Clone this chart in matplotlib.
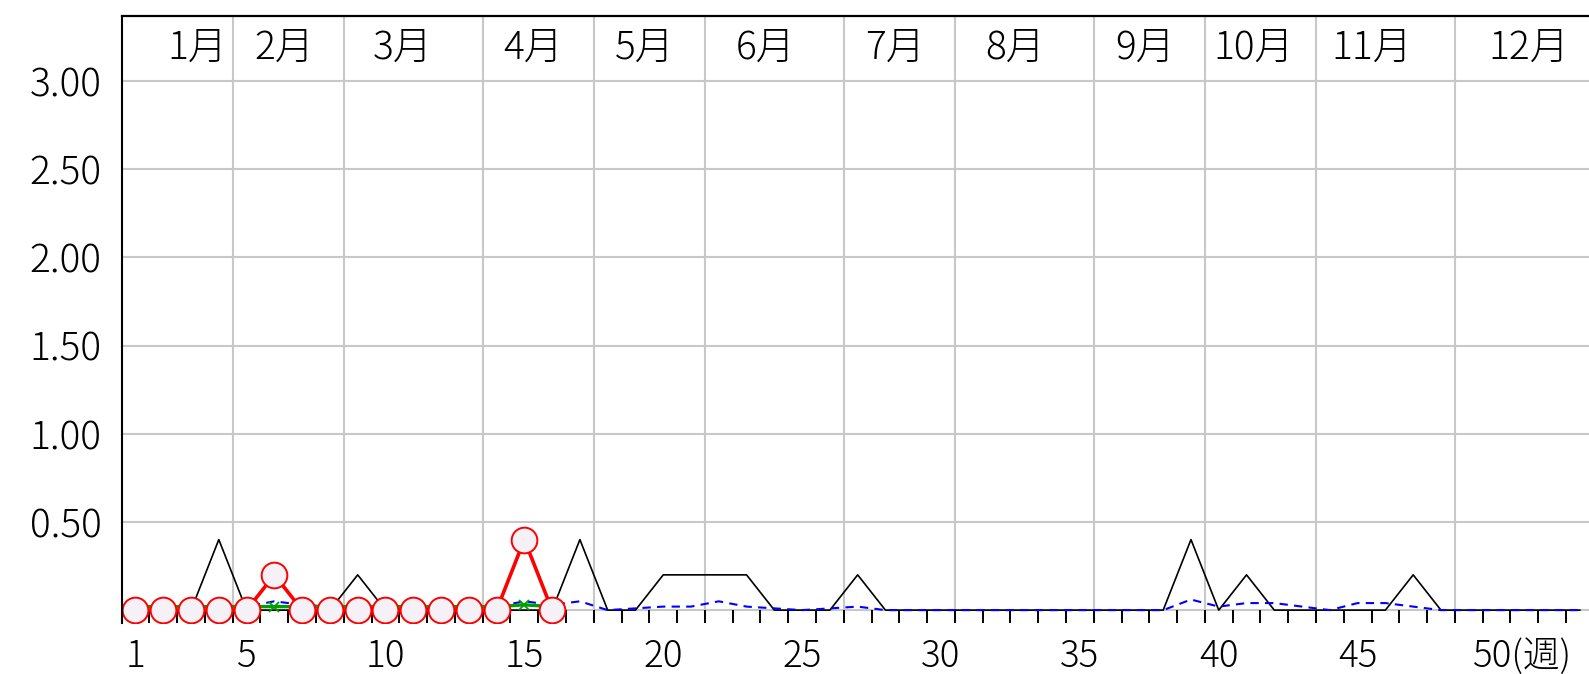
import matplotlib
matplotlib.use('Agg')
import matplotlib.pyplot as plt
from matplotlib.ticker import FixedLocator

plt.rcParams['font.family'] = ['Noto Sans CJK JP', 'DejaVu Sans']
plt.rcParams['font.weight'] = 'light'

# ---------------- data ----------------
weeks = list(range(1, 54))

current_weeks = list(range(1, 17))
current_vals = [0, 0, 0, 0, 0, 0.2, 0, 0, 0, 0, 0, 0, 0, 0, 0.4, 0]

green_weeks = list(range(1, 17))
green_vals = [0.02, 0.02, 0.02, 0.02, 0.02, 0.02, 0.02, 0.02,
              0.02, 0.02, 0.02, 0.02, 0.02, 0.02, 0.03, 0.02]

prev_vals = [0, 0, 0, 0.4, 0, 0, 0, 0, 0.2, 0,
             0, 0, 0, 0, 0, 0, 0.4, 0, 0, 0.2,
             0.2, 0.2, 0.2, 0, 0, 0, 0.2, 0, 0, 0,
             0, 0, 0, 0, 0, 0, 0, 0, 0.4, 0,
             0.2, 0, 0, 0, 0, 0, 0.2, 0, 0, 0,
             0, 0, 0]

avg_vals = [0.01, 0.01, 0.02, 0.03, 0.02, 0.05, 0.03, 0.02, 0.02, 0.01,
            0.01, 0.01, 0.01, 0.02, 0.05, 0.03, 0.05, 0.0, 0.01, 0.02,
            0.02, 0.05, 0.02, 0.01, 0.0, 0.01, 0.02, 0.0, 0.0, 0.0,
            0.0, 0.0, 0.0, 0.0, 0.0, 0.0, 0.0, 0.0, 0.06, 0.02,
            0.04, 0.04, 0.02, 0.0, 0.04, 0.04, 0.02, 0.0, 0.0, 0.0,
            0.0, 0.0, 0.0]

month_labels = ['1月', '2月', '3月', '4月', '5月', '6月',
                '7月', '8月', '9月', '10月', '11月', '12月']
month_label_pos = [3.24, 6.37, 10.6, 15.31, 19.32, 23.7,
                   28.33, 32.67, 37.34, 41.25, 45.5, 51.16]
month_bounds = [4.5, 8.5, 13.5, 17.5, 21.5, 26.5, 30.5, 35.5, 39.5, 43.5, 48.5]

week_ticks = [1, 5, 10, 15, 20, 25, 30, 35, 40, 45]
week_tick_labels = ['1', '5', '10', '15', '20', '25', '30', '35', '40', '45']
last_week_label = '50(週)'
last_week_label_pos = 49.15

y_ticks = [0.5, 1.0, 1.5, 2.0, 2.5, 3.0]

# ---------------- figure ----------------
W, H = 1589, 674
fig = plt.figure(figsize=(W / 100, H / 100), dpi=100)
left_px, top_px, bottom_px = 121.6, 16.2, 623
ax = fig.add_axes([left_px / W, 1 - bottom_px / H, 1 - left_px / W,
                   (bottom_px - top_px) / H])
ax.set_xlim(0.5, 53.33)
ax.set_ylim(-0.073, 3.368)

FS = 28
FSX = 26.5
grid_c = '#c8c8c8'

# grid
for y in y_ticks + [0]:
    ax.axhline(y, color=grid_c, lw=1.5, zorder=1)
for xb in month_bounds:
    ax.axvline(xb, color=grid_c, lw=1.5, zorder=1)

# spines
for s in ['right', 'bottom']:
    ax.spines[s].set_visible(False)
ax.spines['top'].set_linewidth(1.6)
ax.spines['left'].set_linewidth(1.5)
ax.spines['top'].set_zorder(6)
ax.spines['left'].set_zorder(6)

# ticks
ax.set_yticks(y_ticks)
ax.set_yticklabels([f'{v:.2f}' for v in y_ticks])
ax.tick_params(axis='y', length=0, pad=14.5, labelsize=FS)

ax.set_xticks(week_ticks)
ax.set_xticklabels(week_tick_labels)
ax.xaxis.set_minor_locator(FixedLocator([w - 0.5 for w in weeks[:52]] + [52.5]))
ax.tick_params(axis='x', which='major', length=0, pad=10.5, labelsize=FSX)
ax.tick_params(axis='x', which='minor', direction='in', length=9.4, width=1.4,
               color='black')
ax.annotate(last_week_label, xy=(last_week_label_pos, 0),
            xycoords=('data', 'axes fraction'), xytext=(0, -10.5),
            textcoords='offset points', ha='left', va='top', fontsize=FSX,
            annotation_clip=False)

# month labels
for lab, pos in zip(month_labels, month_label_pos):
    ax.text(pos, 3.19, lab, ha='center', va='center', fontsize=FS, zorder=5)

# series
ax.plot(weeks, prev_vals, color='black', lw=1.2, zorder=3)
ax.plot(weeks, avg_vals, color='#0000ff', lw=1.5, ls=(0, (4, 3)), zorder=4)
ax.plot(green_weeks, green_vals, color='#00a000', lw=2.4, marker='x', ms=7,
        mew=1.3, zorder=4.5)
ax.plot(current_weeks, current_vals, color='#ff0000', lw=2.6, marker='o', ms=18.5,
        mfc='#f5f1f6', mec='#ff0000', mew=1.4, zorder=5)

fig.savefig('out.png', dpi=100)
